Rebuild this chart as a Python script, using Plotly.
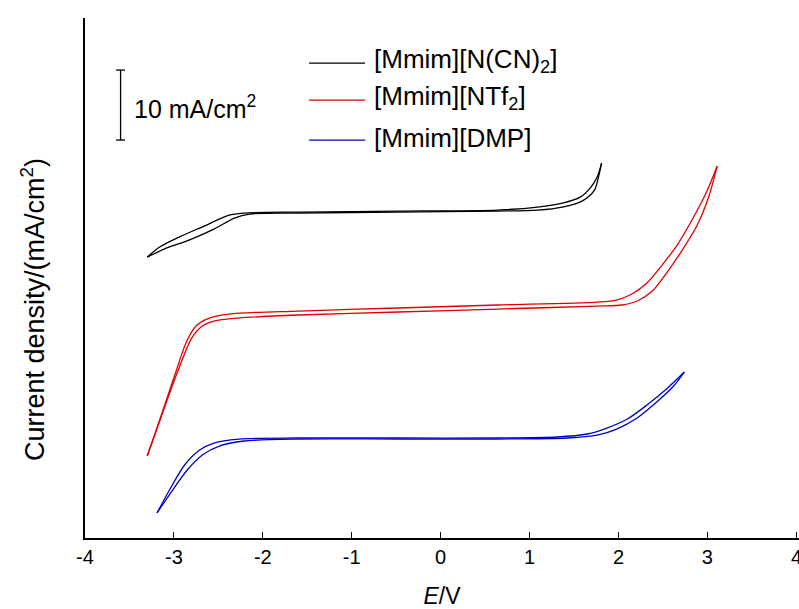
import plotly.graph_objects as go

# [Mmim][N(CN)2] : two sweep branches (E in V, j in mA/cm^2, offset for display)
e_cn_a = [-3.30, -3.16, -2.94, -2.66, -2.38, -2.21, -1.60, -0.48, 0.64, 1.09, 1.37, 1.57, 1.69, 1.76, 1.81]
j_cn_a = [40.14, 41.57, 43.00, 44.57, 46.14, 46.43, 46.57, 46.71, 46.86, 47.29, 47.86, 48.71, 50.14, 51.57, 53.57]
e_cn_b = [-3.30, -3.11, -2.83, -2.55, -2.32, -2.15, -1.60, -0.48, 0.64, 1.09, 1.37, 1.59, 1.73, 1.78, 1.81]
j_cn_b = [40.14, 41.29, 42.57, 44.14, 45.71, 46.29, 46.43, 46.57, 46.71, 46.86, 47.29, 48.14, 49.71, 51.86, 53.57]

# [Mmim][NTf2]
e_tf_a = [-3.30, -3.16, -2.99, -2.85, -2.74, -2.60, -2.38, -1.60, -0.48, 0.64, 1.76, 1.98, 2.15, 2.32, 2.49, 2.66, 2.82, 2.99, 3.11]
j_tf_a = [11.71, 16.86, 23.29, 28.29, 30.43, 31.43, 32.00, 32.43, 32.86, 33.29, 33.71, 34.00, 34.86, 36.43, 39.00, 41.86, 45.29, 49.43, 53.14]
e_tf_b = [-3.30, -3.14, -2.96, -2.80, -2.68, -2.55, -2.27, -1.60, -0.48, 0.64, 1.76, 2.04, 2.21, 2.38, 2.54, 2.71, 2.88, 3.01, 3.11]
j_tf_b = [11.71, 17.43, 23.71, 28.57, 30.29, 31.00, 31.43, 31.86, 32.29, 32.71, 33.14, 33.29, 33.86, 35.29, 37.86, 41.00, 44.57, 48.57, 53.14]

# [Mmim][DMP]
e_dmp_a = [-3.19, -3.05, -2.88, -2.71, -2.55, -2.27, -1.60, -0.48, 0.64, 1.31, 1.65, 1.87, 2.10, 2.32, 2.54, 2.74]
j_dmp_a = [3.57, 6.86, 10.43, 12.57, 13.57, 14.14, 14.29, 14.29, 14.29, 14.43, 14.86, 15.71, 17.00, 19.00, 21.29, 23.71]
e_dmp_b = [-3.19, -3.03, -2.85, -2.68, -2.49, -2.21, -1.60, -0.48, 0.64, 1.43, 1.76, 1.98, 2.21, 2.43, 2.61, 2.74]
j_dmp_b = [3.57, 6.57, 9.71, 11.86, 13.14, 13.86, 14.14, 14.14, 14.14, 14.29, 14.71, 15.57, 17.14, 19.43, 21.57, 23.71]

names = ["[Mmim][N(CN)<sub>2</sub>]", "[Mmim][NTf<sub>2</sub>]", "[Mmim][DMP]"]
colors = ["#000000", "#e00000", "#0000c8"]
x_ticks = [-4, -3, -2, -1, 0, 1, 2, 3, 4]

series = [
    [(e_cn_a, j_cn_a), (e_cn_b, j_cn_b)],
    [(e_tf_a, j_tf_a), (e_tf_b, j_tf_b)],
    [(e_dmp_a, j_dmp_a), (e_dmp_b, j_dmp_b)],
]

FONT = "Liberation Sans, Arial, sans-serif"
fig = go.Figure()
for (branches, name, col) in zip(series, names, colors):
    for ex, jy in branches:
        fig.add_trace(go.Scatter(x=ex, y=jy, mode="lines", name=name, showlegend=False,
                                 line=dict(color=col, width=1.3, shape="spline", smoothing=0.8)))

# custom legend
leg_y = [67.86, 62.57, 56.86]
shapes = []
annotations = []
for name, col, ly in zip(names, colors, leg_y):
    shapes.append(dict(type="line", xref="x", yref="y", x0=-1.48, x1=-0.85, y0=ly, y1=ly,
                       line=dict(color=col, width=1.3)))
    annotations.append(dict(xref="x", yref="y", x=-0.77, y=ly + 0.3, text=name, showarrow=False,
                            xanchor="left", yanchor="middle", font=dict(family=FONT, size=26, color="black")))

# scale bar 10 mA/cm2
bar_x, bar_top, bar_len = -3.60, 66.86, 10
shapes.append(dict(type="line", xref="x", yref="y", x0=bar_x, x1=bar_x, y0=bar_top - bar_len, y1=bar_top,
                   line=dict(color="black", width=1.3)))
for yy in (bar_top, bar_top - bar_len):
    shapes.append(dict(type="line", xref="x", yref="y", x0=bar_x - 0.05, x1=bar_x + 0.05, y0=yy, y1=yy,
                       line=dict(color="black", width=1.3)))
annotations.append(dict(xref="x", yref="y", x=-3.47, y=61.6, text="10 mA/cm<sup>2</sup>", showarrow=False,
                        xanchor="left", yanchor="middle", font=dict(family=FONT, size=25, color="black")))

# y title
annotations.append(dict(xref="paper", yref="paper", x=-0.073, y=0.44, text="Current density/(mA/cm<sup>2</sup>)",
                        showarrow=False, textangle=-90, xanchor="center", yanchor="middle",
                        font=dict(family=FONT, size=27, color="black")))

# last tick label sits on the figure edge (partly cut in the reference)
tick_text = [str(t) for t in x_ticks]
annotations.append(dict(xref="x", yref="paper", x=x_ticks[-1], y=0, yshift=-6, text=tick_text[-1],
                        showarrow=False, xanchor="center", yanchor="top",
                        font=dict(family=FONT, size=20, color="black")))

fig.update_layout(
    width=799, height=609,
    margin=dict(l=85, r=0, t=18, b=71),
    paper_bgcolor="white", plot_bgcolor="white",
    showlegend=False,
    shapes=shapes, annotations=annotations,
    font=dict(family=FONT, color="black"),
    xaxis=dict(range=[-4, 4.03], tickvals=x_ticks, ticktext=tick_text[:-1] + [""],
               ticks="inside", ticklen=6, tickwidth=1.3, tickcolor="black",
               showline=True, linecolor="black", linewidth=1.6, showgrid=False, zeroline=False,
               tickfont=dict(family=FONT, size=20, color="black"),
               title=dict(text="<i>E</i>/V", font=dict(family=FONT, size=23, color="black"), standoff=22)),
    yaxis=dict(range=[0, 74.3], showticklabels=False, ticks="", showline=True, linecolor="black",
               linewidth=1.6, showgrid=False, zeroline=False),
)

fig.write_html("out.html")
